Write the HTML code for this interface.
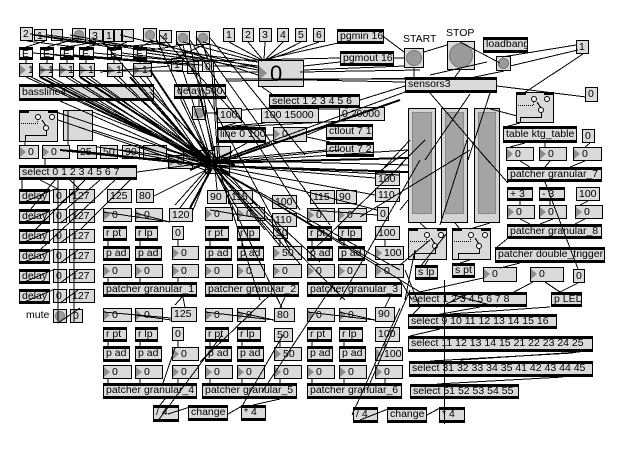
<!DOCTYPE html>
<html><head><meta charset="utf-8"><style>
body{margin:0;background:#fff}
#c{position:relative;width:634px;height:454px;overflow:hidden;background:#fff}
.b{position:absolute;box-sizing:border-box;background:#dadada;border:1px solid #000;font-family:"Liberation Sans",sans-serif;font-size:10.5px;line-height:12px;padding-left:2px;white-space:nowrap;overflow:hidden;color:#000}
.o{box-shadow:inset 0 2px 0 #000,inset 0 -2px 0 #000;line-height:13px}
.n{padding-left:8px}
.n:before{content:"";position:absolute;left:0;top:1px;border-left:6px solid #8c8c8c;border-top:5px solid transparent;border-bottom:5px solid transparent}
.big{font-size:22px;line-height:25px;padding-left:11px}
.big:before{border-left-width:8px;border-top-width:7px;border-bottom-width:7px;top:5px}
.bt:after{content:"";position:absolute;left:1px;top:1px;right:1px;bottom:1px;border-radius:50%;background:#9a9a9a;box-shadow:inset 0 0 0 1px #7a7a7a}
.w{background:#f2f2f2}
.t{position:absolute;font-family:"Liberation Sans",sans-serif;font-size:10.5px;line-height:12px;white-space:nowrap;color:#000}
.sl{position:absolute;box-sizing:border-box;border:1px solid #000;background:#d4d4d4}
.sl i{position:absolute;left:3px;right:3px;top:3px;bottom:8px;background:#a4a4a4;border:1px solid #888}
svg{position:absolute;left:0;top:0}
</style></head><body><div id="c">

<!-- top-left row 1 -->
<div class="b" style="left:20px;top:27px;width:13px;height:14px">2</div>
<div class="b" style="left:34px;top:29px;width:13px;height:12px">1</div>
<div class="b" style="left:51px;top:29px;width:12px;height:12px"></div>
<div class="b bt" style="left:72px;top:28px;width:14px;height:14px"></div>
<div class="b" style="left:89px;top:29px;width:14px;height:13px">3</div>
<div class="b" style="left:103px;top:29px;width:11px;height:13px">1</div>
<div class="b" style="left:114px;top:29px;width:8px;height:13px"></div>
<div class="b" style="left:122px;top:29px;width:12px;height:13px"></div>
<div class="b bt" style="left:143px;top:28px;width:14px;height:14px"></div>
<div class="b" style="left:159px;top:30px;width:13px;height:13px">4</div>
<div class="b bt" style="left:176px;top:31px;width:14px;height:14px"></div>
<div class="b bt" style="left:196px;top:31px;width:14px;height:14px"></div>

<!-- row 2 -->
<div class="b o w" style="left:19px;top:47px;width:14px;height:13px">E</div>
<div class="b o w" style="left:40px;top:47px;width:14px;height:13px">E</div>
<div class="b o w" style="left:60px;top:47px;width:14px;height:13px">E</div>
<div class="b o w" style="left:79px;top:47px;width:15px;height:13px">E</div>
<div class="b o w" style="left:107px;top:47px;width:15px;height:13px">E</div>
<div class="b o w" style="left:133px;top:47px;width:14px;height:13px">E</div>

<!-- row 3 -->
<div class="b n" style="left:19px;top:63px;width:14px;height:14px">1</div>
<div class="b n" style="left:39px;top:63px;width:14px;height:14px">1</div>
<div class="b n" style="left:59px;top:63px;width:15px;height:14px">1</div>
<div class="b n" style="left:79px;top:63px;width:16px;height:14px">1</div>
<div class="b n" style="left:107px;top:63px;width:16px;height:14px">1</div>
<div class="b n" style="left:133px;top:63px;width:19px;height:14px">1</div>
<div class="b" style="left:171px;top:58px;width:12px;height:13px">1</div>
<div class="b" style="left:187px;top:61px;width:12px;height:13px">1</div>
<div class="b" style="left:202px;top:60px;width:12px;height:12px">0</div>

<div class="b o" style="left:19px;top:84px;width:135px;height:17px;line-height:15px">bassline4</div>
<div class="b o" style="left:174px;top:84px;width:52px;height:15px">delay 500</div>
<div class="b" style="left:63px;top:110px;width:30px;height:31px"></div>

<div class="b n" style="left:19px;top:145px;width:20px;height:14px">0</div>
<div class="b n" style="left:42px;top:145px;width:28px;height:14px">0</div>
<div class="b" style="left:77px;top:145px;width:20px;height:14px">25</div>
<div class="b" style="left:100px;top:145px;width:18px;height:14px">50</div>
<div class="b" style="left:122px;top:145px;width:18px;height:14px">90</div>
<div class="b" style="left:143px;top:145px;width:24px;height:14px"></div>
<div class="b n" style="left:168px;top:155px;width:25px;height:14px">0</div>
<div class="b" style="left:183px;top:150px;width:20px;height:14px"></div>
<div class="b n" style="left:200px;top:150px;width:22px;height:14px">0</div>
<div class="b" style="left:214px;top:146px;width:17px;height:12px"></div>
<div class="b" style="left:205px;top:160px;width:25px;height:14px"></div>

<div class="b o" style="left:19px;top:165px;width:118px;height:15px">select 0 1 2 3 4 5 6 7</div>

<!-- delay rows -->
<div class="b o" style="left:19px;top:189px;width:31px;height:15px">delay</div>
<div class="b" style="left:53px;top:189px;width:14px;height:14px">0</div>
<div class="b" style="left:69px;top:189px;width:26px;height:14px">127</div>
<div class="b o" style="left:19px;top:209px;width:31px;height:15px">delay</div>
<div class="b" style="left:53px;top:209px;width:14px;height:14px">0</div>
<div class="b" style="left:69px;top:209px;width:26px;height:14px">127</div>
<div class="b o" style="left:19px;top:229px;width:31px;height:15px">delay</div>
<div class="b" style="left:53px;top:229px;width:14px;height:14px">0</div>
<div class="b" style="left:69px;top:229px;width:26px;height:14px">127</div>
<div class="b o" style="left:19px;top:249px;width:31px;height:15px">delay</div>
<div class="b" style="left:53px;top:249px;width:14px;height:14px">0</div>
<div class="b" style="left:69px;top:249px;width:26px;height:14px">127</div>
<div class="b o" style="left:19px;top:269px;width:31px;height:15px">delay</div>
<div class="b" style="left:53px;top:269px;width:14px;height:14px">0</div>
<div class="b" style="left:69px;top:269px;width:26px;height:14px">127</div>
<div class="b o" style="left:19px;top:289px;width:31px;height:15px">delay</div>
<div class="b" style="left:53px;top:289px;width:14px;height:14px">0</div>
<div class="b" style="left:69px;top:289px;width:26px;height:14px">127</div>
<div class="t" style="left:26px;top:309px">mute</div>
<div class="b bt" style="left:53px;top:309px;width:14px;height:14px"></div>
<div class="b" style="left:70px;top:309px;width:13px;height:14px">0</div>

<!-- granular 1 -->
<div class="b" style="left:107px;top:189px;width:25px;height:14px">125</div>
<div class="b" style="left:136px;top:189px;width:18px;height:14px">80</div>
<div class="b n" style="left:103px;top:208px;width:29px;height:14px">0</div>
<div class="b n" style="left:135px;top:208px;width:28px;height:14px">0</div>
<div class="b" style="left:169px;top:208px;width:24px;height:14px">120</div>
<div class="b o" style="left:103px;top:226px;width:24px;height:15px">r pt</div>
<div class="b o" style="left:135px;top:226px;width:23px;height:15px">r lp</div>
<div class="b" style="left:172px;top:226px;width:12px;height:14px">0</div>
<div class="b o" style="left:103px;top:246px;width:27px;height:15px">p ad</div>
<div class="b o" style="left:135px;top:246px;width:27px;height:15px">p ad</div>
<div class="b n" style="left:172px;top:246px;width:27px;height:14px">0</div>
<div class="b n" style="left:103px;top:264px;width:29px;height:14px">0</div>
<div class="b n" style="left:135px;top:264px;width:28px;height:14px">0</div>
<div class="b n" style="left:172px;top:264px;width:27px;height:14px">0</div>
<div class="b o" style="left:103px;top:282px;width:94px;height:15px">patcher granular_1</div>

<!-- granular 2 -->
<div class="b" style="left:207px;top:190px;width:20px;height:14px">90</div>
<div class="b" style="left:228px;top:190px;width:25px;height:14px">115</div>
<div class="b" style="left:272px;top:195px;width:25px;height:14px">100</div>
<div class="b n" style="left:205px;top:207px;width:28px;height:14px">0</div>
<div class="b n" style="left:237px;top:207px;width:28px;height:14px">0</div>
<div class="b" style="left:272px;top:213px;width:25px;height:14px">110</div>
<div class="b o" style="left:205px;top:226px;width:24px;height:15px">r pt</div>
<div class="b o" style="left:237px;top:226px;width:23px;height:15px">r lp</div>
<div class="b" style="left:273px;top:226px;width:15px;height:13px">50</div>
<div class="b o" style="left:205px;top:246px;width:27px;height:15px">p ad</div>
<div class="b o" style="left:237px;top:246px;width:27px;height:15px">p ad</div>
<div class="b n" style="left:273px;top:246px;width:29px;height:14px">50</div>
<div class="b n" style="left:205px;top:264px;width:28px;height:14px">0</div>
<div class="b n" style="left:237px;top:264px;width:28px;height:14px">0</div>
<div class="b n" style="left:273px;top:264px;width:29px;height:14px">0</div>
<div class="b o" style="left:205px;top:282px;width:94px;height:15px">patcher granular_2</div>

<!-- granular 3 -->
<div class="b" style="left:310px;top:190px;width:25px;height:14px">115</div>
<div class="b" style="left:336px;top:190px;width:21px;height:14px">90</div>
<div class="b" style="left:375px;top:172px;width:25px;height:14px">100</div>
<div class="b" style="left:375px;top:188px;width:25px;height:14px">110</div>
<div class="b n" style="left:307px;top:208px;width:28px;height:14px">0</div>
<div class="b n" style="left:338px;top:208px;width:29px;height:14px">0</div>
<div class="b" style="left:377px;top:207px;width:12px;height:14px">0</div>
<div class="b o" style="left:307px;top:226px;width:25px;height:15px">r pt</div>
<div class="b o" style="left:338px;top:226px;width:24px;height:15px">r lp</div>
<div class="b" style="left:375px;top:226px;width:25px;height:14px">100</div>
<div class="b o" style="left:307px;top:246px;width:26px;height:15px">p ad</div>
<div class="b o" style="left:338px;top:246px;width:27px;height:15px">p ad</div>
<div class="b n" style="left:375px;top:246px;width:29px;height:14px">100</div>
<div class="b n" style="left:307px;top:264px;width:28px;height:14px">0</div>
<div class="b n" style="left:338px;top:264px;width:29px;height:14px">0</div>
<div class="b n" style="left:375px;top:264px;width:29px;height:14px">0</div>
<div class="b o" style="left:307px;top:282px;width:95px;height:15px">patcher granular_3</div>

<!-- granular 4 -->
<div class="b n" style="left:103px;top:308px;width:29px;height:14px">0</div>
<div class="b n" style="left:135px;top:308px;width:28px;height:14px">0</div>
<div class="b" style="left:171px;top:307px;width:26px;height:15px">125</div>
<div class="b o" style="left:103px;top:327px;width:24px;height:15px">r pt</div>
<div class="b o" style="left:135px;top:327px;width:23px;height:15px">r lp</div>
<div class="b" style="left:172px;top:327px;width:12px;height:14px">0</div>
<div class="b o" style="left:103px;top:346px;width:27px;height:16px">p ad</div>
<div class="b o" style="left:135px;top:346px;width:27px;height:16px">p ad</div>
<div class="b n" style="left:172px;top:347px;width:27px;height:14px">0</div>
<div class="b n" style="left:103px;top:365px;width:29px;height:14px">0</div>
<div class="b n" style="left:135px;top:365px;width:28px;height:14px">0</div>
<div class="b n" style="left:172px;top:365px;width:27px;height:14px">0</div>
<div class="b o" style="left:103px;top:383px;width:94px;height:16px">patcher granular_4</div>
<div class="b o" style="left:153px;top:405px;width:26px;height:17px">/ 4</div>
<div class="b o" style="left:188px;top:405px;width:40px;height:16px">change</div>

<!-- granular 5 -->
<div class="b n" style="left:205px;top:308px;width:28px;height:14px">0</div>
<div class="b n" style="left:237px;top:308px;width:29px;height:14px">0</div>
<div class="b" style="left:274px;top:308px;width:21px;height:14px">80</div>
<div class="b o" style="left:205px;top:327px;width:24px;height:15px">r pt</div>
<div class="b o" style="left:237px;top:327px;width:24px;height:15px">r lp</div>
<div class="b" style="left:274px;top:328px;width:19px;height:14px">50</div>
<div class="b o" style="left:205px;top:346px;width:27px;height:16px">p ad</div>
<div class="b o" style="left:237px;top:346px;width:27px;height:16px">p ad</div>
<div class="b n" style="left:274px;top:347px;width:28px;height:14px">50</div>
<div class="b n" style="left:205px;top:365px;width:28px;height:14px">0</div>
<div class="b n" style="left:237px;top:365px;width:28px;height:14px">0</div>
<div class="b n" style="left:274px;top:365px;width:28px;height:14px">0</div>
<div class="b o" style="left:202px;top:383px;width:95px;height:16px">patcher granular_5</div>
<div class="b o" style="left:241px;top:405px;width:25px;height:16px">* 4</div>

<!-- granular 6 -->
<div class="b n" style="left:307px;top:308px;width:28px;height:14px">0</div>
<div class="b n" style="left:339px;top:308px;width:28px;height:14px">0</div>
<div class="b" style="left:375px;top:307px;width:20px;height:15px">90</div>
<div class="b o" style="left:307px;top:327px;width:25px;height:15px">r pt</div>
<div class="b o" style="left:339px;top:327px;width:24px;height:15px">r lp</div>
<div class="b" style="left:375px;top:327px;width:25px;height:15px">100</div>
<div class="b o" style="left:307px;top:346px;width:26px;height:16px">p ad</div>
<div class="b o" style="left:339px;top:346px;width:27px;height:16px">p ad</div>
<div class="b n" style="left:375px;top:347px;width:28px;height:14px">100</div>
<div class="b n" style="left:307px;top:365px;width:28px;height:14px">0</div>
<div class="b n" style="left:339px;top:365px;width:28px;height:14px">0</div>
<div class="b n" style="left:375px;top:365px;width:28px;height:14px">0</div>
<div class="b o" style="left:307px;top:383px;width:95px;height:16px">patcher granular_6</div>
<div class="b o" style="left:353px;top:407px;width:25px;height:16px">/ 4</div>
<div class="b o" style="left:387px;top:407px;width:40px;height:16px">change</div>
<div class="b o" style="left:439px;top:407px;width:26px;height:16px">* 4</div>

<!-- top middle -->
<div class="b" style="left:223px;top:28px;width:12px;height:14px">1</div>
<div class="b" style="left:242px;top:28px;width:12px;height:14px">2</div>
<div class="b" style="left:259px;top:28px;width:13px;height:14px">3</div>
<div class="b" style="left:277px;top:28px;width:12px;height:14px">4</div>
<div class="b" style="left:295px;top:28px;width:12px;height:14px">5</div>
<div class="b" style="left:313px;top:28px;width:12px;height:14px">6</div>
<div class="b o" style="left:337px;top:29px;width:47px;height:15px">pgmin 16</div>
<div class="b o" style="left:340px;top:51px;width:54px;height:15px">pgmout 16</div>
<div class="b n big" style="left:258px;top:60px;width:46px;height:27px">0</div>
<div class="b o" style="left:269px;top:94px;width:91px;height:14px;line-height:12px">select 1 2 3 4 5 6</div>
<div class="b" style="left:261px;top:108px;width:58px;height:15px">100 15000</div>
<div class="b" style="left:339px;top:107px;width:46px;height:14px">0 20000</div>
<div class="b" style="left:217px;top:108px;width:25px;height:15px">100</div>
<div class="b bt" style="left:192px;top:106px;width:14px;height:14px"></div>
<div class="b o" style="left:217px;top:127px;width:49px;height:16px">line 0 100</div>
<div class="b n" style="left:273px;top:127px;width:34px;height:15px">0</div>
<div class="b o" style="left:326px;top:124px;width:47px;height:16px">ctlout 7 1</div>
<div class="b o" style="left:326px;top:142px;width:48px;height:15px">ctlout 7 2</div>

<!-- right top -->
<div class="t" style="left:403px;top:33px">START</div>
<div class="t" style="left:446px;top:27px">STOP</div>
<div class="b bt" style="left:404px;top:48px;width:20px;height:20px"></div>
<div class="b bt" style="left:447px;top:41px;width:28px;height:29px"></div>
<div class="b o" style="left:483px;top:37px;width:45px;height:16px">loadbang</div>
<div class="b bt" style="left:496px;top:56px;width:15px;height:15px"></div>
<div class="b" style="left:576px;top:40px;width:13px;height:14px">1</div>
<div class="b o" style="left:405px;top:77px;width:92px;height:16px">sensors3</div>
<div class="b" style="left:585px;top:87px;width:13px;height:15px">0</div>
<div class="b o" style="left:503px;top:126px;width:74px;height:17px;line-height:15px">table ktg_table</div>
<div class="b" style="left:582px;top:129px;width:13px;height:14px">0</div>

<div class="sl" style="left:408px;top:108px;width:28px;height:115px"><i></i></div>
<div class="sl" style="left:441px;top:108px;width:27px;height:115px"><i></i></div>
<div class="sl" style="left:474px;top:108px;width:26px;height:115px"><i></i></div>

<div class="b n" style="left:506px;top:147px;width:28px;height:14px">0</div>
<div class="b n" style="left:539px;top:147px;width:28px;height:14px">0</div>
<div class="b n" style="left:573px;top:147px;width:29px;height:14px">0</div>
<div class="b o" style="left:507px;top:167px;width:95px;height:15px">patcher granular_7</div>
<div class="b o" style="left:507px;top:187px;width:26px;height:14px;line-height:12px">+ 3</div>
<div class="b o" style="left:539px;top:187px;width:26px;height:14px;line-height:12px">- 3</div>
<div class="b" style="left:576px;top:187px;width:24px;height:14px">100</div>
<div class="b n" style="left:507px;top:205px;width:28px;height:14px">0</div>
<div class="b n" style="left:539px;top:205px;width:28px;height:14px">0</div>
<div class="b n" style="left:575px;top:205px;width:28px;height:14px">0</div>
<div class="b o" style="left:507px;top:224px;width:95px;height:15px">patcher granular_8</div>
<div class="b o" style="left:495px;top:247px;width:110px;height:16px">patcher double_trigger</div>
<div class="b o" style="left:415px;top:265px;width:23px;height:15px">s lp</div>
<div class="b o" style="left:452px;top:263px;width:23px;height:15px">s pt</div>
<div class="b n" style="left:483px;top:267px;width:34px;height:15px">0</div>
<div class="b n" style="left:530px;top:267px;width:34px;height:15px">0</div>
<div class="b" style="left:573px;top:269px;width:12px;height:14px">0</div>
<div class="b o" style="left:409px;top:292px;width:118px;height:15px">select 1 2 3 4 5 6 7 8</div>
<div class="b o" style="left:551px;top:292px;width:31px;height:15px">p LED</div>
<div class="b o" style="left:408px;top:314px;width:149px;height:15px">select 9 10 11 12 13 14 15 16</div>
<div class="b o" style="left:408px;top:336px;width:185px;height:16px">select 11 12 13 14 15 21 22 23 24 25</div>
<div class="b o" style="left:409px;top:361px;width:184px;height:16px">select 31 32 33 34 35 41 42 43 44 45</div>
<div class="b o" style="left:410px;top:384px;width:109px;height:15px">select 51 52 53 54 55</div>

<svg width="634" height="454" viewBox="0 0 634 454" shape-rendering="crispEdges">
<!-- gswitches -->
<g fill="#dadada" stroke="#000" stroke-width="1">
<rect x="19.5" y="110.5" width="38" height="31"/>
<rect x="516.5" y="92.5" width="37" height="30"/>
<rect x="408.5" y="228.5" width="38" height="31"/>
<rect x="452.5" y="228.5" width="38" height="31"/>
</g>
<g fill="#000">
<rect x="19" y="110" width="10" height="3"/><rect x="48" y="110" width="10" height="3"/>
<rect x="516" y="92" width="10" height="3"/><rect x="544" y="92" width="10" height="3"/>
<rect x="408" y="228" width="10" height="3"/><rect x="437" y="228" width="10" height="3"/>
<rect x="452" y="228" width="10" height="3"/><rect x="481" y="228" width="10" height="3"/>
</g>
<g fill="#fff" stroke="#000" shape-rendering="auto">
<circle cx="38" cy="117" r="2.5"/><circle cx="52" cy="117" r="2.5"/><circle cx="46" cy="128" r="2.5"/>
<circle cx="534" cy="99" r="2.5"/><circle cx="547" cy="99" r="2.5"/><circle cx="541" cy="110" r="2.5"/>
<circle cx="427" cy="235" r="2.5"/><circle cx="441" cy="235" r="2.5"/><circle cx="435" cy="246" r="2.5"/>
<circle cx="471" cy="235" r="2.5"/><circle cx="485" cy="235" r="2.5"/><circle cx="479" cy="246" r="2.5"/>
</g>
<g fill="none" stroke="#000" stroke-dasharray="1 1">
<path d="M21 123.5H37.5V120 M518 105.5H533.5V102 M410 241.5H426.5V238 M454 241.5H470.5V238"/>
</g>
<g fill="none" stroke="#000">
<path d="M46.5 130.5V135.5H25.5V142 M46 126L42 120 M541.5 112.5V117.5H520.5V123 M541 108L537 102 M435.5 248.5V253.5H414.5V260 M435 244L431 238 M479.5 248.5V253.5H458.5V260 M479 244L475 238"/>
</g>

<!-- patch cords -->
<g fill="none" stroke="#000" stroke-width="1">
<path d="M27 41L75 47M33 35L110 47M45 41L26 47M60 41L140 47M79 38L47 47M96 42L66 47M110 42L86 47M127 42L114 47M150 42L140 47M165 43L120 47M183 45L150 50M203 45L176 58M183 45L187 61M203 45L208 60
M26 60L26 63M47 60L47 63M67 60L67 63M86 60L86 63M114 60L114 63M140 60L140 63M33 53L171 63M53 55L187 65M74 55L202 65M94 53L171 60M122 53L190 62M147 53L210 62
M30 34L258 66M47 35L258 62M70 35L258 70M120 35L258 68M150 40L258 75M183 42L258 62M203 42L262 61M40 70L258 72M100 72L170 66M214 66L258 66M154 62L340 58
M229 42L262 60M248 42L263 60M265 42L264 60M283 42L265 60M301 42L266 60M319 42L267 60
M262 60L338 43M304 66L340 62M304 70L405 66M300 72L420 70M226 79L405 79M226 81L420 78M384 37L404 52M394 58L404 58M262 87L272 94M360 100L405 86M304 80L405 82
M272 108L242 110M300 108L290 108M345 108L355 107M319 109L339 109M319 122L339 122M265 123L222 127M345 121L232 127M236 123L222 127M206 113L217 113M199 98L199 106M307 135L326 127M307 137L330 142M266 135L273 135
M424 52L447 45M460 42L500 63M502 57L576 45M510 66L578 50M430 75L487 62M497 86L586 97M583 54L524 93M414 68L414 77M460 70L455 77M504 71L470 78
M430 93L490 163M470 94L425 160M490 93L468 160M487 108L517 116M400 165L425 140M470 140L508 183M440 225L467 140M420 223L427 229M455 223L460 229M490 223L470 229M520 123L505 127M525 143L510 147M545 143L545 147M590 143L585 147
M520 161L530 167M550 161L545 167M585 161L570 167M520 201L520 205M550 201L550 205M588 201L580 205M520 219L530 224M553 219L540 224M585 219L575 224M578 269L545 182M507 239L497 247M520 263L500 268M533 282L512 293M545 282L560 292M483 278L415 293M578 283L560 292
M428 260L425 265M470 260L460 263M430 240L400 265M415 250L405 300M420 267L447 233
M447 293L497 307M470 293L440 307M420 307L413 314M480 307L430 316M410 336L440 329M430 361L573 353M460 360L580 352M437 384L563 377M450 314L550 307M400 280L412 300M405 270L420 307
M444.5 280L444.5 424
M196 37L330 225M190 40L300 210M176 40L290 250M160 35L260 140M210 38L305 155
M408 150L375 175M410 140L380 172M403 163L310 253M420 160L340 300M408 200L400 210M470 150L360 217
M262 392L335 282M241 408L283 335M200 362L272 293M352 415L400 308M367 390L410 290M157 422L222 335M163 383L175 348M175 305L182 297M183 297L185 307M285 297L280 308M390 297L385 307
M165 399L160 405M168 414L190 407M228 414L242 406M360 420L388 409M427 415L440 408M280 399L253 405
M103 212L170 222M135 213L170 222M103 312L171 318M135 315L171 320M205 312L274 320M237 312L274 320M307 312L375 320M339 312L375 320M210 210L272 220M310 210L377 215
M108 241L108 246M140 241L140 246M178 240L178 246M108 278L108 282M140 278L140 282M178 278L178 282M210 241L210 246M242 241L242 246M280 239L280 246M312 241L312 246M344 241L344 246M385 240L385 246
M108 342L108 346M140 342L140 346M178 341L178 347M210 342L210 346M242 342L242 346M280 342L280 347M312 342L312 346M344 342L344 346M385 342L385 347M108 379L108 383M140 379L140 383M178 379L178 383M210 379L210 383M242 379L242 383M280 379L280 383M312 379L312 383M344 379L344 383M385 379L385 383
M22 180L22 189M40 180L60 190M55 180L30 210M70 180L80 190M85 180L35 230M100 180L65 210M115 180L40 250M130 180L80 230M58 180L58 322M74 180L74 322
M22 203L55 189M22 223L55 209M22 243L55 229M22 263L55 249M22 283L55 269M22 303L55 289M60 203L78 190M60 223L78 210M60 243L78 230M60 263L78 250M60 283L78 270M60 303L78 290M58 323L80 308
M25 142L25 145M45 159L45 165M68 110L68 145
M26 77L205 160M31 77L210 163M46 77L212 165M51 77L208 162M66 77L214 166M71 77L206 164M86 77L211 160M91 77L215 168M114 77L213 163M119 77L209 166M140 77L216 162M147 77L210 170M150 92L218 160M60 101L205 165M100 101L212 170M130 101L215 165M56 112L210 163M58 120L205 170M93 112L214 161M93 130L208 168M70 150L210 165M97 147L212 162M118 150L213 168M140 147L211 165M167 150L212 163M137 172L205 163
M157 40L212 163M190 44L214 160M210 44L218 162M183 71L212 163M199 73L216 160M214 72L220 165M103 42L205 160M180 98L210 160M200 98L213 150
M212 163L405 92M212 163L408 150M215 160L408 165M215 165L375 178M215 166L375 195M212 165L400 175M214 168L377 210M212 163L340 150M218 160L326 150M210 165L300 135M212 163L270 143M210 163L247 143
M212 165L237 208M212 165L265 230M212 163L280 246M212 165L300 264M214 165L320 262M212 166L345 300M212 166L400 270M212 165L420 292M212 166L380 265M210 168L180 208M210 168L193 210M208 168L175 205M210 168L154 196M213 168L228 190M215 168L217 190M215 170L282 308M220 172L260 300M225 170L300 255"/>
</g>
<g fill="none" stroke="#000" stroke-width="2">
<path d="M40 77L212 165M80 77L213 163M130 77L210 166M150 70L212 163M60 150L212 166M215 163L408 158M215 166L408 172M212 168L190 208M212 165L400 100M196 150L230 175M190 170L232 152M200 158L235 165"/>
</g>
</svg>
</div></body></html>
